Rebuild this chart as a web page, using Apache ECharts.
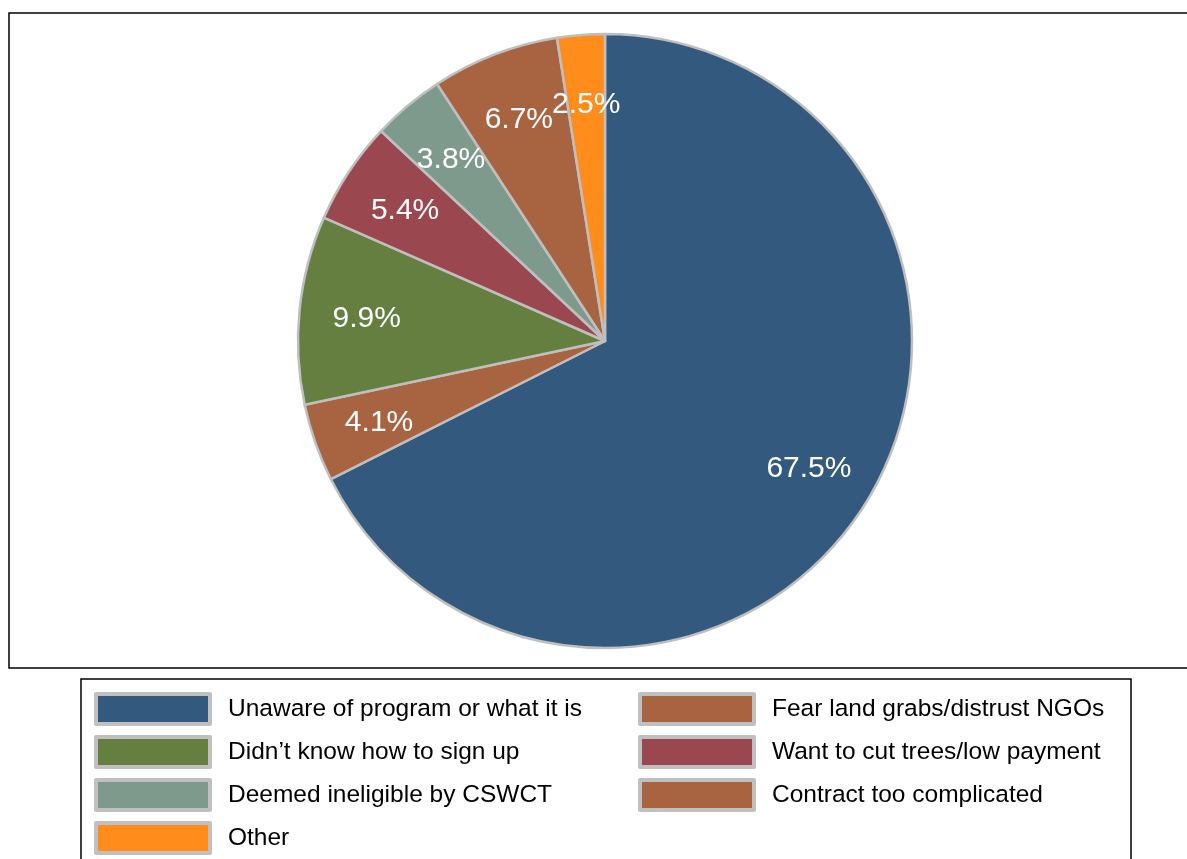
<!DOCTYPE html>
<html>
<head>
<meta charset="utf-8">
<script src="https://cdn.jsdelivr.net/npm/echarts@6/dist/echarts.min.js"></script>
<style>html,body{margin:0;padding:0;background:#fff;}#c{width:1187px;height:859px;}</style>
</head>
<body>
<div id="c"></div>
<script>
const categories = [
  "Unaware of program or what it is",
  "Fear land grabs/distrust NGOs",
  "Didn\u2019t know how to sign up",
  "Want to cut trees/low payment",
  "Deemed ineligible by CSWCT",
  "Contract too complicated",
  "Other"
];
const values = [67.5, 4.1, 9.9, 5.4, 3.8, 6.7, 2.5];
const colors = ["#335a7e", "#a86341", "#657f40", "#9b4750", "#7e9a8d", "#a86341", "#ff8c1b"];
const legendCol1 = [categories[0], categories[2], categories[4], categories[6]];
const legendCol2 = [categories[1], categories[3], categories[5]];

const chart = echarts.init(document.getElementById('c'));
const font = '"Liberation Sans", Arial, sans-serif';
const pieData = categories.map((n, i) => ({ name: n, value: values[i], itemStyle: { color: colors[i] } }));
const labelData = categories.map((n, i) => ({ name: n, value: values[i] }));

const legendCommon = {
  type: 'plain',
  orient: 'vertical',
  icon: 'rect',
  itemWidth: 114,
  itemHeight: 30,
  itemGap: 9,
  padding: 0,
  height: 175,
  selectedMode: false,
  itemStyle: { borderColor: '#c0c0c0', borderWidth: 4 },
  textStyle: { fontSize: 24.5, color: '#000', fontFamily: font, padding: [0, 0, 0, 13] }
};

chart.setOption({
  animation: false,
  backgroundColor: '#fff',
  graphic: [
    { type: 'rect', shape: { x: 9, y: 13, width: 1200, height: 655 }, style: { fill: 'none', stroke: '#000', lineWidth: 1.5 }, silent: true, z: -1 },
    { type: 'rect', shape: { x: 81, y: 679, width: 1050, height: 220 }, style: { fill: 'none', stroke: '#000', lineWidth: 1.5 }, silent: true, z: -1 }
  ],
  legend: [
    Object.assign({}, legendCommon, { left: 94, top: 692, data: legendCol1 }),
    Object.assign({}, legendCommon, { left: 638, top: 692, data: legendCol2 })
  ],
  series: [
    {
      type: 'pie',
      center: [605, 341],
      radius: [0, 307],
      startAngle: 90,
      clockwise: true,
      avoidLabelOverlap: false,
      label: { show: false },
      labelLine: { show: false },
      emphasis: { disabled: true },
      itemStyle: { borderColor: '#bfbfbf', borderWidth: 2.5 },
      data: pieData
    },
    {
      type: 'pie',
      center: [605, 343],
      radius: [0, 473],
      startAngle: 90,
      clockwise: true,
      silent: true,
      avoidLabelOverlap: false,
      minShowLabelAngle: 0,
      emphasis: { disabled: true },
      itemStyle: { color: 'rgba(0,0,0,0)', borderWidth: 0 },
      labelLayout: { hideOverlap: false },
      label: {
        show: true,
        position: 'inside',
        color: '#fff',
        fontSize: 30,
        fontFamily: font,
        overflow: 'none',
        formatter: p => p.value.toFixed(1) + '%'
      },
      labelLine: { show: false },
      data: labelData
    }
  ]
});
</script>
</body>
</html>
